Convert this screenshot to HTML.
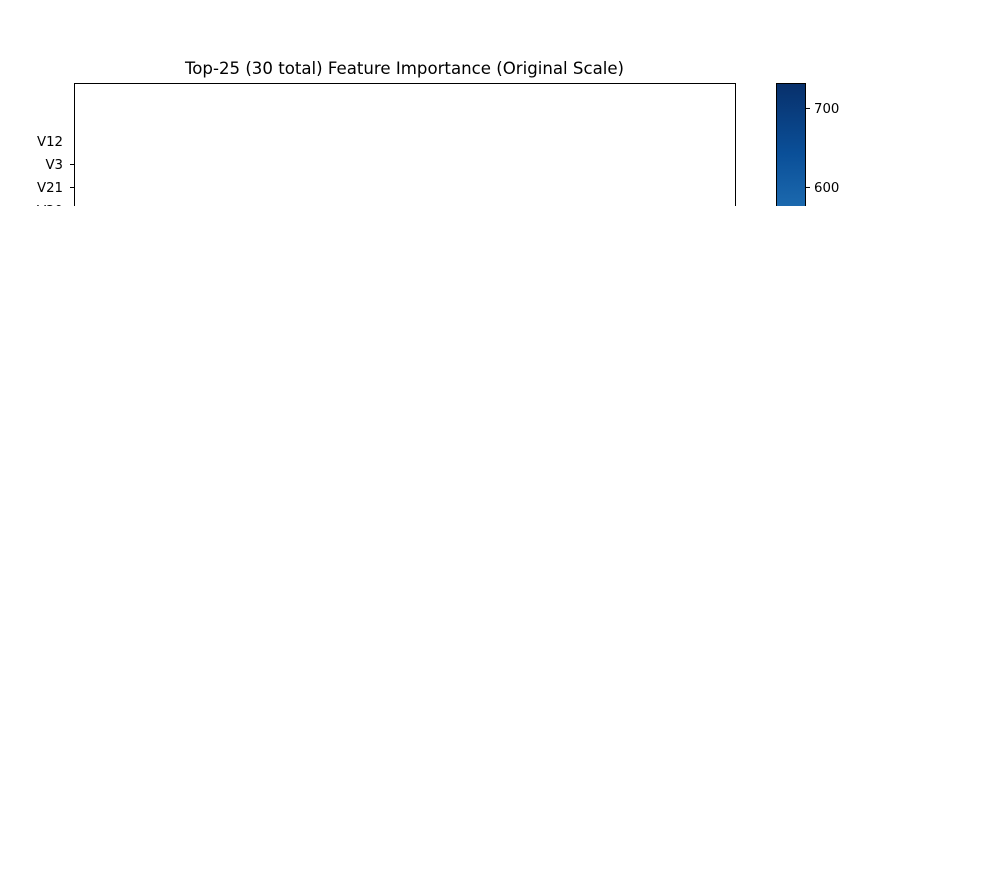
<!DOCTYPE html>
<html><head><meta charset="utf-8"><style>
html,body{margin:0;padding:0;background:#fff;}
svg{display:block;font-family:"DejaVu Sans","Liberation Sans",sans-serif;}
</style></head><body>
<svg id="chart" width="1000" height="875" viewBox="0 0 1000 875" xmlns="http://www.w3.org/2000/svg">
<defs>
<linearGradient id="cb" x1="0" y1="1" x2="0" y2="0">
<stop offset="0" stop-color="#2171b5"/>
<stop offset="0.5" stop-color="#0a4f98"/>
<stop offset="1" stop-color="#08306b"/>
</linearGradient>
<clipPath id="vis"><rect x="0" y="0" width="1000" height="206"/></clipPath>
</defs>
<text x="404.5" y="74" text-anchor="middle" font-size="16.6">Top-25 (30 total) Feature Importance (Original Scale)</text>
<g clip-path="url(#vis)">
<rect x="74.5" y="83.5" width="661" height="140" fill="none" stroke="#000" stroke-width="1"/>
<g id="yaxis"></g>
<rect x="776.5" y="83.5" width="29" height="140" fill="url(#cb)" stroke="#000" stroke-width="1"/>
<g id="cbaxis"></g>
</g>
</svg>
<script>
const features = ['V12','V3','V21','V20'];
const cbTicks = [700, 600];
const cbMax = 731.6;
const NS = 'http://www.w3.org/2000/svg';
function yPos(i){ return 141 + i*23; }
function cbY(v){ return 83 + (cbMax - v) * 0.79; }
const ya = document.getElementById('yaxis');
features.forEach((f,i)=>{
  const y = yPos(i);
  if(i>0){
    const t = document.createElementNS(NS,'line');
    
    
    t.setAttribute('x1',70); t.setAttribute('x2',74); t.setAttribute('y1',y+0.5); t.setAttribute('y2',y+0.5);
    t.setAttribute('stroke','#000'); ya.appendChild(t);
  }
  const tx = document.createElementNS(NS,'text');
  
  
  tx.setAttribute('x',63); tx.setAttribute('y',y+5); tx.setAttribute('text-anchor','end'); tx.setAttribute('font-size','13.3');
  tx.textContent = f; ya.appendChild(tx);
});
const ca = document.getElementById('cbaxis');
cbTicks.forEach(v=>{
  const y = cbY(v);
  const t = document.createElementNS(NS,'line');
  
  
  t.setAttribute('x1',806); t.setAttribute('x2',810); t.setAttribute('y1',y+0.5); t.setAttribute('y2',y+0.5);
  t.setAttribute('stroke','#000'); ca.appendChild(t);
  const tx = document.createElementNS(NS,'text');
  
  
  tx.setAttribute('x',814); tx.setAttribute('y',y+5); tx.setAttribute('font-size','13.3');
  tx.textContent = v; ca.appendChild(tx);
});
</script>
</body></html>
